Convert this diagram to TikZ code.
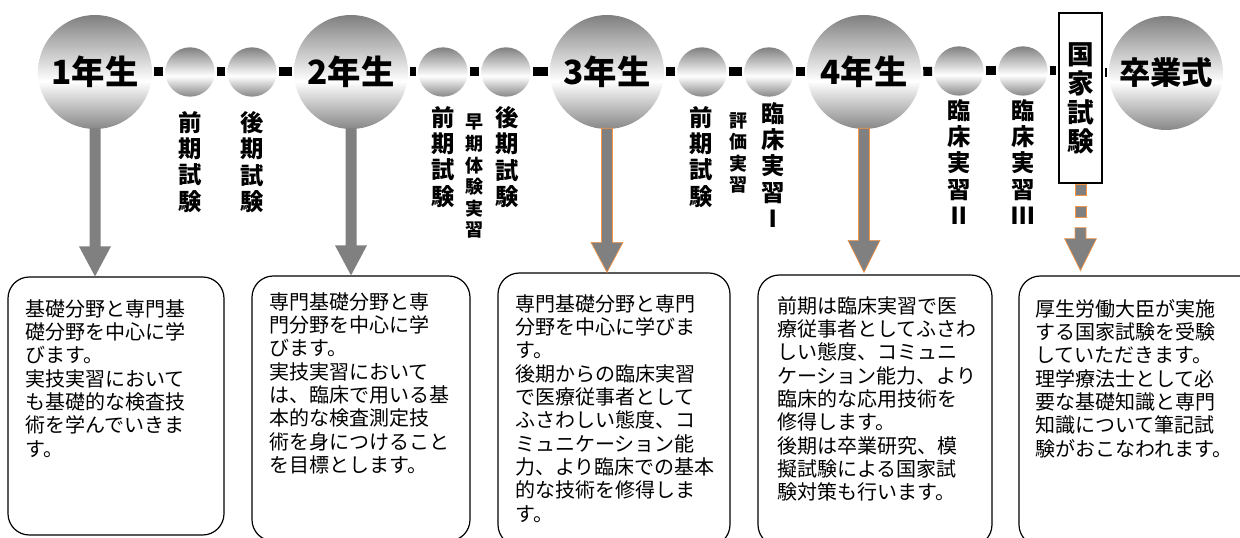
\documentclass[tikz,border=0pt]{standalone}
\usepackage{fontspec}
\newfontfamily\jp{Noto Sans CJK JP}
\usetikzlibrary{calc}
\definecolor{arrgray}{HTML}{808080}
\definecolor{arrorange}{HTML}{F79646}
\pgfdeclareverticalshading{ballshade}{100bp}{color(0bp)=(black!47); color(25bp)=(black!47); color(46bp)=(white); color(75bp)=(black!50); color(100bp)=(black!50)}
\begin{document}
\begin{tikzpicture}[x=0.75pt,y=-0.75pt,
  bigball/.style={circle, shading=ballshade, inner sep=0pt, minimum size=85.5pt, font=\jp\bfseries\fontsize{25}{25}\selectfont},
  smallball/.style={circle, shading=ballshade, inner sep=0pt, minimum size=37pt},
  conn/.style={line width=6.75pt, shorten >=1.5pt, shorten <=1.5pt},
  vlab/.style={inner sep=0pt, align=center, font=\jp\bfseries\fontsize{17.5}{19.75}\selectfont},
  vlabsmall/.style={inner sep=0pt, align=center, font=\jp\bfseries\fontsize{13.5}{16.2}\selectfont},
  descbox/.style={draw=black, line width=0.9pt, rounded corners=16pt, inner sep=0pt},
  desctext/.style={inner sep=0pt, anchor=north west, align=left, font=\jp\fontsize{15}{17.5}\selectfont},
  arrfill/.style={fill=arrgray},
  arrfillo/.style={fill=arrgray, draw=arrorange, line width=0.5pt, line join=miter}
]
\useasboundingbox (0,0) rectangle (1240,538);
\clip (0,0) rectangle (1240,538);

% description boxes
\node[descbox, minimum width=162pt, minimum height=193.5pt] (b1) at (116,406) {};
\node[descbox, minimum width=163.5pt, minimum height=198.75pt] (b2) at (361,408.5) {};
\node[descbox, minimum width=174pt, minimum height=204.75pt] (b3) at (614,409.5) {};
\node[descbox, minimum width=175.5pt, minimum height=203.25pt] (b4) at (875,410.5) {};
\node[descbox, minimum width=182.25pt, minimum height=202.5pt] (b5) at (1140.5,411) {};

\node[desctext] (t1) at (25,299) {基礎分野と専門基\\礎分野を中心に学\\びます。\\実技実習において\\も基礎的な検査技\\術を学んでいきま\\す。};
\node[desctext] (t2) at (269,292) {専門基礎分野と専\\門分野を中心に学\\びます。\\実技実習において\\は、臨床で用いる基\\本的な検査測定技\\術を身につけること\\を目標とします。};
\node[desctext] (t3) at (515,294) {専門基礎分野と専門\\分野を中心に学びま\\す。\\後期からの臨床実習\\で医療従事者として\\ふさわしい態度、コ\\ミュニケーション能\\力、より臨床での基本\\的な技術を修得しま\\す。};
\node[desctext] (t4) at (777,296) {前期は臨床実習で医\\療従事者としてふさわ\\しい態度、コミュニ\\ケーション能力、より\\臨床的な応用技術を\\修得します。\\後期は卒業研究、模\\擬試験による国家試\\験対策も行います。};
\node[desctext] (t5) at (1035,299) {厚生労働大臣が実施\\する国家試験を受験\\していただきます。\\理学療法士として必\\要な基礎知識と専門\\知識について筆記試\\験がおこなわれます。};

% timeline nodes
\node[bigball] (y1) at (95,72) {1年生};
\node[smallball] (s1) at (190,72) {};
\node[smallball] (s2) at (252,72) {};
\node[bigball] (y2) at (351,72) {2年生};
\node[smallball] (s3) at (443,72) {};
\node[smallball] (s4) at (506,72) {};
\node[bigball] (y3) at (607,72) {3年生};
\node[smallball] (s5) at (702,72) {};
\node[smallball] (s6) at (769,72) {};
\node[bigball] (y4) at (864,72) {4年生};
\node[smallball] (s7) at (959,71) {};
\node[smallball] (s8) at (1023,71) {};
\node[draw=black, fill=white, line width=0.9pt, inner sep=0pt, minimum width=32.25pt, minimum height=127.5pt, align=center, font=\jp\bfseries\fontsize{20}{21.75}\selectfont] (kk) at (1080.5,98) {国\\家\\試\\験};
\node[bigball, font=\jp\bfseries\fontsize{23.5}{23.5}\selectfont] (y5) at (1166,73) {卒業式};

% connectors
\draw[conn] (y1) -- (s1);
\draw[conn] (s1) -- (s2);
\draw[conn] (s2) -- (y2);
\draw[conn] (y2) -- (s3);
\draw[conn] (s3) -- (s4);
\draw[conn] (s4) -- (y3);
\draw[conn] (y3) -- (s5);
\draw[conn] (s5) -- (s6);
\draw[conn] (s6) -- (y4);
\draw[conn] (y4) -- (s7);
\draw[conn] (s7) -- (s8);
\draw[conn] (s8.east) -- (s8.east -| kk.west);
\draw[conn] (kk.east |- y5) -- (y5);

% vertical labels
\node[vlab, anchor=north] (l1) at (190,111) {前\\期\\試\\験};
\node[vlab, anchor=north] (l2) at (252,111) {後\\期\\試\\験};
\node[vlab, anchor=north] (l3) at (443,106) {前\\期\\試\\験};
\node[vlabsmall, anchor=north] (l4) at (474,114) {早\\期\\体\\験\\実\\習};
\node[vlab, anchor=north] (l5) at (507,106) {後\\期\\試\\験};
\node[vlab, anchor=north] (l6) at (701,106) {前\\期\\試\\験};
\node[vlabsmall, anchor=north] (l7) at (738,112) {評\\価\\実\\習};
\node[vlab, anchor=north] (l8) at (773,102) {臨\\床\\実\\習\\Ⅰ};
\node[vlab, anchor=north] (l9) at (959,99) {臨\\床\\実\\習\\Ⅱ};
\node[vlab, anchor=north] (l10) at (1023,99) {臨\\床\\実\\習\\Ⅲ};

% arrows from years to boxes
\fill[arrfill] ($(y1.south)+(-5.5,-1)$) -- ($(y1.south)+(5.5,-1)$) -- ($(y1.south |- b1.north)+(5.5,-30)$) -- ($(y1.south |- b1.north)+(16,-30)$) -- (y1.south |- b1.north) -- ($(y1.south |- b1.north)+(-16,-30)$) -- ($(y1.south |- b1.north)+(-5.5,-30)$) -- cycle;
\fill[arrfill] ($(y2.south)+(-5.5,-1)$) -- ($(y2.south)+(5.5,-1)$) -- ($(y2.south |- b2.north)+(5.5,-30)$) -- ($(y2.south |- b2.north)+(16,-30)$) -- (y2.south |- b2.north) -- ($(y2.south |- b2.north)+(-16,-30)$) -- ($(y2.south |- b2.north)+(-5.5,-30)$) -- cycle;
\filldraw[arrfillo] ($(y3.south)+(-5.5,-1)$) -- ($(y3.south)+(5.5,-1)$) -- ($(y3.south |- b3.north)+(5.5,-30)$) -- ($(y3.south |- b3.north)+(16,-30)$) -- (y3.south |- b3.north) -- ($(y3.south |- b3.north)+(-16,-30)$) -- ($(y3.south |- b3.north)+(-5.5,-30)$) -- cycle;
\filldraw[arrfillo] ($(y4.south)+(-5.5,-1)$) -- ($(y4.south)+(5.5,-1)$) -- ($(y4.south |- b4.north)+(5.5,-34)$) -- ($(y4.south |- b4.north)+(16,-34)$) -- ($(y4.south |- b4.north)+(0,-2)$) -- ($(y4.south |- b4.north)+(-16,-34)$) -- ($(y4.south |- b4.north)+(-5.5,-34)$) -- cycle;

% dotted arrow from national exam
\coordinate (kt) at ($(kk.south)+(0,87)$);
\filldraw[arrfillo] ($(kk.south)+(-5.5,1)$) rectangle ($(kk.south)+(5.5,12)$);
\filldraw[arrfillo] ($(kk.south)+(-5.5,23)$) rectangle ($(kk.south)+(5.5,34)$);
\filldraw[arrfillo] ($(kk.south)+(-5.5,44)$) -- ($(kk.south)+(5.5,44)$) -- ($(kk.south)+(5.5,55)$) -- ($(kk.south)+(16,55)$) -- (kt) -- ($(kk.south)+(-16,55)$) -- ($(kk.south)+(-5.5,55)$) -- cycle;
\end{tikzpicture}
\end{document}
